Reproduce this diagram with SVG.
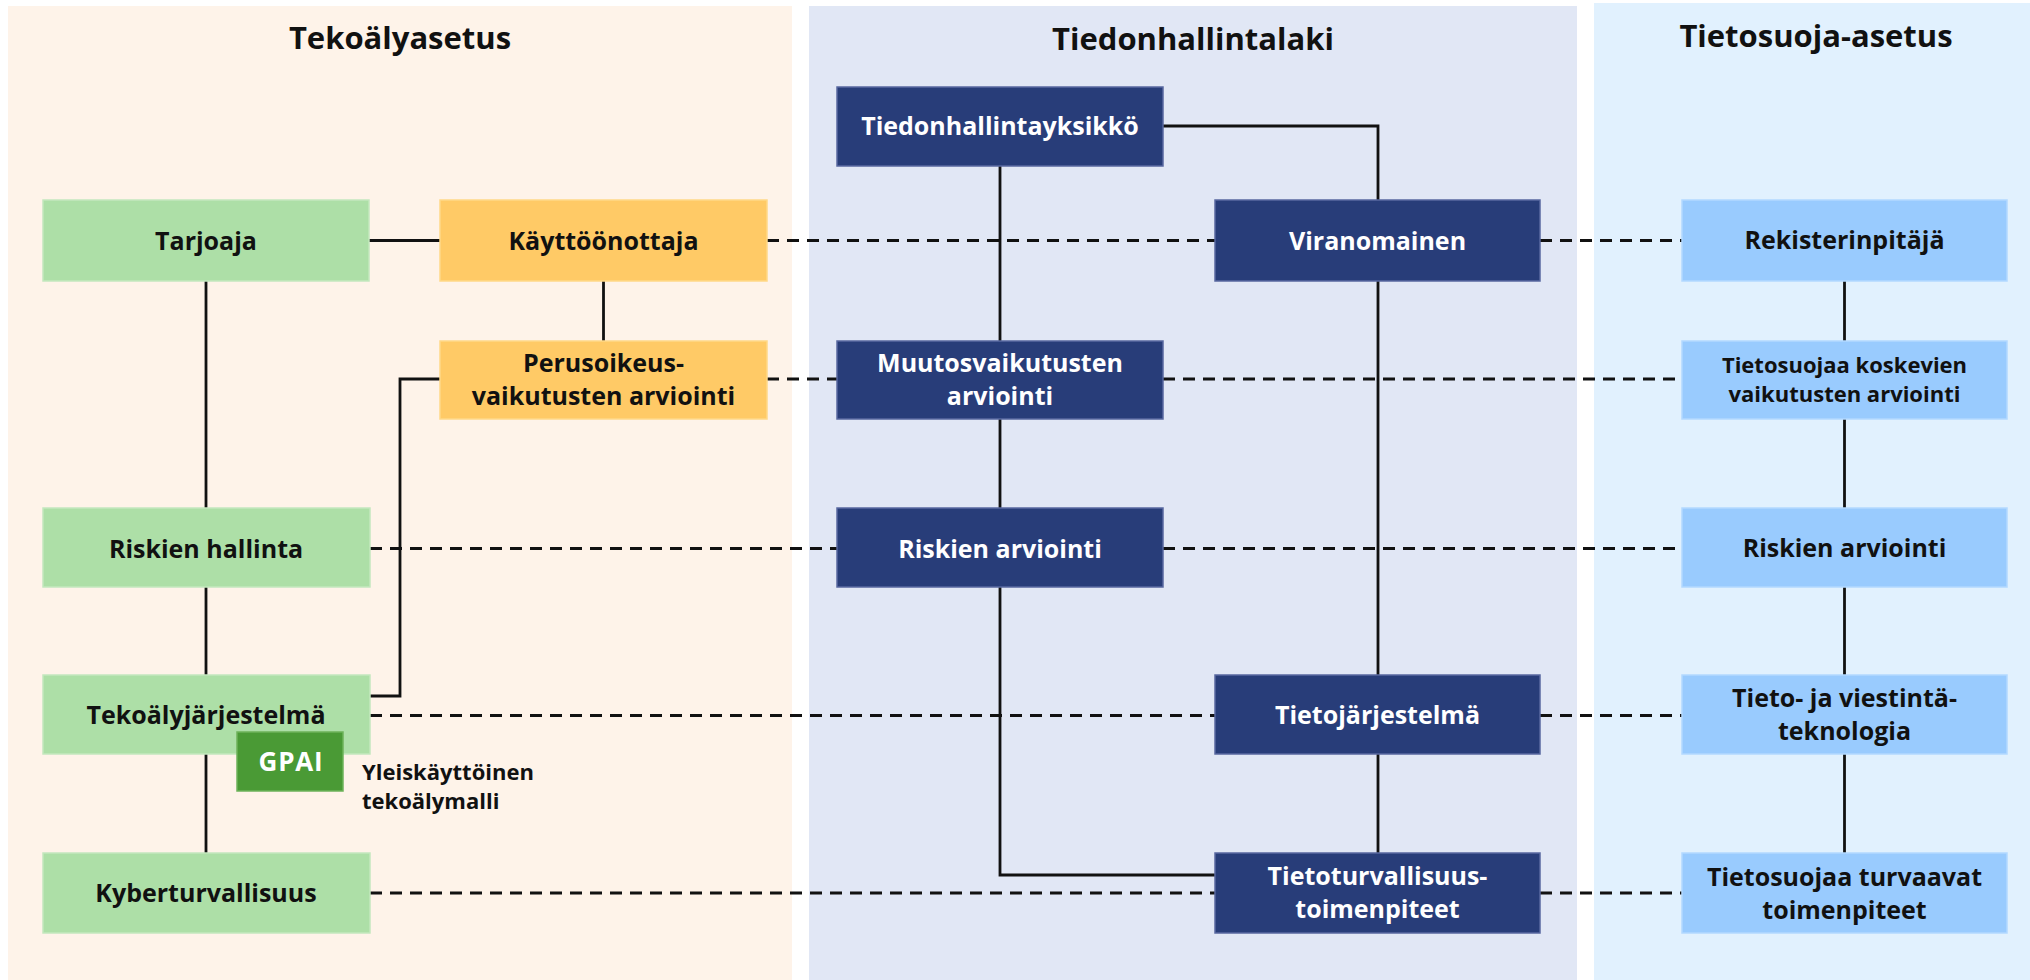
<svg xmlns="http://www.w3.org/2000/svg" width="2030" height="980" viewBox="0 0 2030 980">
  <style>
    .t { font-family: "Open Sans", "Liberation Sans", sans-serif; font-weight: 700; text-anchor: middle; }
    .title { font-size: 31px; fill: #111; }
    .lbl { font-size: 25px; }
    .dark { fill: #111; }
    .light { fill: #fff; }
    .green { fill: #ADDFA7; stroke: #C4E8BE; stroke-width: 1.5; }
    .orange { fill: #FFCA66; stroke: #FFD988; stroke-width: 1.5; }
    .navy { fill: #283D79; stroke: #5868A0; stroke-width: 1.5; }
    .sky { fill: #99CBFE; stroke: #B3D9FF; stroke-width: 1.5; }
    .solid { fill: none; stroke: #111; stroke-width: 2.8; }
    .dash { fill: none; stroke: #111; stroke-width: 3.2; stroke-dasharray: 12 8; }
  </style>

  <!-- column backgrounds -->
  <g id="columns">
    <rect x="8" y="6" width="784" height="974" fill="#FEF3E9"/>
    <rect x="809" y="6" width="768" height="974" fill="#E1E7F5"/>
    <rect x="1594" y="3" width="436" height="977" fill="#E1F1FE"/>
    <text class="t title" x="400" y="49">Tekoälyasetus</text>
    <text class="t title" x="1193" y="50">Tiedonhallintalaki</text>
    <text class="t title" x="1816" y="47">Tietosuoja-asetus</text>
  </g>

  <!-- connectors -->
  <g id="connectors">
    <!-- AI act column -->
    <path class="solid" d="M369,240.5 H440"/>
    <path class="solid" d="M206,281 V508"/>
    <path class="solid" d="M206,587 V675"/>
    <path class="solid" d="M206,754 V853"/>
    <path class="solid" d="M603.5,281 V341"/>
    <path class="solid" d="M440,379 H400 V696 H370"/>
    <!-- information management column -->
    <path class="solid" d="M1163,126 H1378 V200"/>
    <path class="solid" d="M1000,166 V341"/>
    <path class="solid" d="M1000,419 V508"/>
    <path class="solid" d="M1000,587 V875 H1215"/>
    <path class="solid" d="M1378,281 V675"/>
    <path class="solid" d="M1378,754 V853"/>
    <!-- data protection column -->
    <path class="solid" d="M1844.5,281 V341"/>
    <path class="solid" d="M1844.5,419 V508"/>
    <path class="solid" d="M1844.5,587 V675"/>
    <path class="solid" d="M1844.5,754 V853"/>
    <!-- cross-column correspondences -->
    <path class="dash" d="M767,240.5 H1215"/>
    <path class="dash" d="M1540,240.5 H1682"/>
    <path class="dash" d="M767,379 H837"/>
    <path class="dash" d="M1163,379 H1682"/>
    <path class="dash" d="M370,548.5 H837"/>
    <path class="dash" d="M1163,548.5 H1682"/>
    <path class="dash" d="M370,715.5 H1215"/>
    <path class="dash" d="M1540,715.5 H1682"/>
    <path class="dash" d="M370,893 H1215"/>
    <path class="dash" d="M1540,893 H1682"/>
  </g>

  <!-- Tekoälyasetus nodes -->
  <g id="tarjoaja">
    <rect class="green" x="43" y="200" width="326" height="81"/>
    <text class="t lbl dark" x="206" y="249.5">Tarjoaja</text>
  </g>
  <g id="kayttoonottaja">
    <rect class="orange" x="440" y="200" width="327" height="81"/>
    <text class="t lbl dark" x="603.5" y="249.5">Käyttöönottaja</text>
  </g>
  <g id="perusoikeus">
    <rect class="orange" x="440" y="341" width="327" height="78"/>
    <text class="t lbl dark" x="603.5" y="372">Perusoikeus-</text>
    <text class="t lbl dark" x="603.5" y="405">vaikutusten arviointi</text>
  </g>
  <g id="riskien-hallinta">
    <rect class="green" x="43" y="508" width="327" height="79"/>
    <text class="t lbl dark" x="206" y="557.5">Riskien hallinta</text>
  </g>
  <g id="tekoalyjarjestelma">
    <rect class="green" x="43" y="675" width="327" height="79"/>
    <text class="t lbl dark" x="206" y="724">Tekoälyjärjestelmä</text>
  </g>
  <g id="gpai">
    <rect x="237" y="732" width="106" height="59" fill="#4A9A35" stroke="#6DB35A" stroke-width="1.5"/>
    <text class="t light" x="291" y="771" font-size="26" letter-spacing="0.8">GPAI</text>
    <text class="t dark" x="362" y="780" font-size="22" style="text-anchor:start">Yleiskäyttöinen</text>
    <text class="t dark" x="362" y="809" font-size="22" style="text-anchor:start">tekoälymalli</text>
  </g>
  <g id="kyberturvallisuus">
    <rect class="green" x="43" y="853" width="327" height="80"/>
    <text class="t lbl dark" x="206" y="902">Kyberturvallisuus</text>
  </g>

  <!-- Tiedonhallintalaki nodes -->
  <g id="tiedonhallintayksikko">
    <rect class="navy" x="837" y="87" width="326" height="79"/>
    <text class="t lbl light" x="1000" y="135">Tiedonhallintayksikkö</text>
  </g>
  <g id="viranomainen">
    <rect class="navy" x="1215" y="200" width="325" height="81"/>
    <text class="t lbl light" x="1377.5" y="249.5">Viranomainen</text>
  </g>
  <g id="muutosvaikutusten-arviointi">
    <rect class="navy" x="837" y="341" width="326" height="78"/>
    <text class="t lbl light" x="1000" y="372">Muutosvaikutusten</text>
    <text class="t lbl light" x="1000" y="405">arviointi</text>
  </g>
  <g id="riskien-arviointi-thl">
    <rect class="navy" x="837" y="508" width="326" height="79"/>
    <text class="t lbl light" x="1000" y="557.5">Riskien arviointi</text>
  </g>
  <g id="tietojarjestelma">
    <rect class="navy" x="1215" y="675" width="325" height="79"/>
    <text class="t lbl light" x="1377.5" y="724">Tietojärjestelmä</text>
  </g>
  <g id="tietoturvallisuustoimenpiteet">
    <rect class="navy" x="1215" y="853" width="325" height="80"/>
    <text class="t lbl light" x="1377.5" y="885">Tietoturvallisuus-</text>
    <text class="t lbl light" x="1377.5" y="918">toimenpiteet</text>
  </g>

  <!-- Tietosuoja-asetus nodes -->
  <g id="rekisterinpitaja">
    <rect class="sky" x="1682" y="200" width="325" height="81"/>
    <text class="t lbl dark" x="1844.5" y="249">Rekisterinpitäjä</text>
  </g>
  <g id="tietosuojaa-koskevien">
    <rect class="sky" x="1682" y="341" width="325" height="78"/>
    <text class="t dark" x="1844.5" y="373" font-size="22">Tietosuojaa koskevien</text>
    <text class="t dark" x="1844.5" y="402" font-size="22">vaikutusten arviointi</text>
  </g>
  <g id="riskien-arviointi-gdpr">
    <rect class="sky" x="1682" y="508" width="325" height="79"/>
    <text class="t lbl dark" x="1844.5" y="557">Riskien arviointi</text>
  </g>
  <g id="tieto-ja-viestintateknologia">
    <rect class="sky" x="1682" y="675" width="325" height="79"/>
    <text class="t lbl dark" x="1844.5" y="707">Tieto- ja viestintä-</text>
    <text class="t lbl dark" x="1844.5" y="740">teknologia</text>
  </g>
  <g id="tietosuojaa-turvaavat">
    <rect class="sky" x="1682" y="853" width="325" height="80"/>
    <text class="t lbl dark" x="1844.5" y="886">Tietosuojaa turvaavat</text>
    <text class="t lbl dark" x="1844.5" y="919">toimenpiteet</text>
  </g>
</svg>
